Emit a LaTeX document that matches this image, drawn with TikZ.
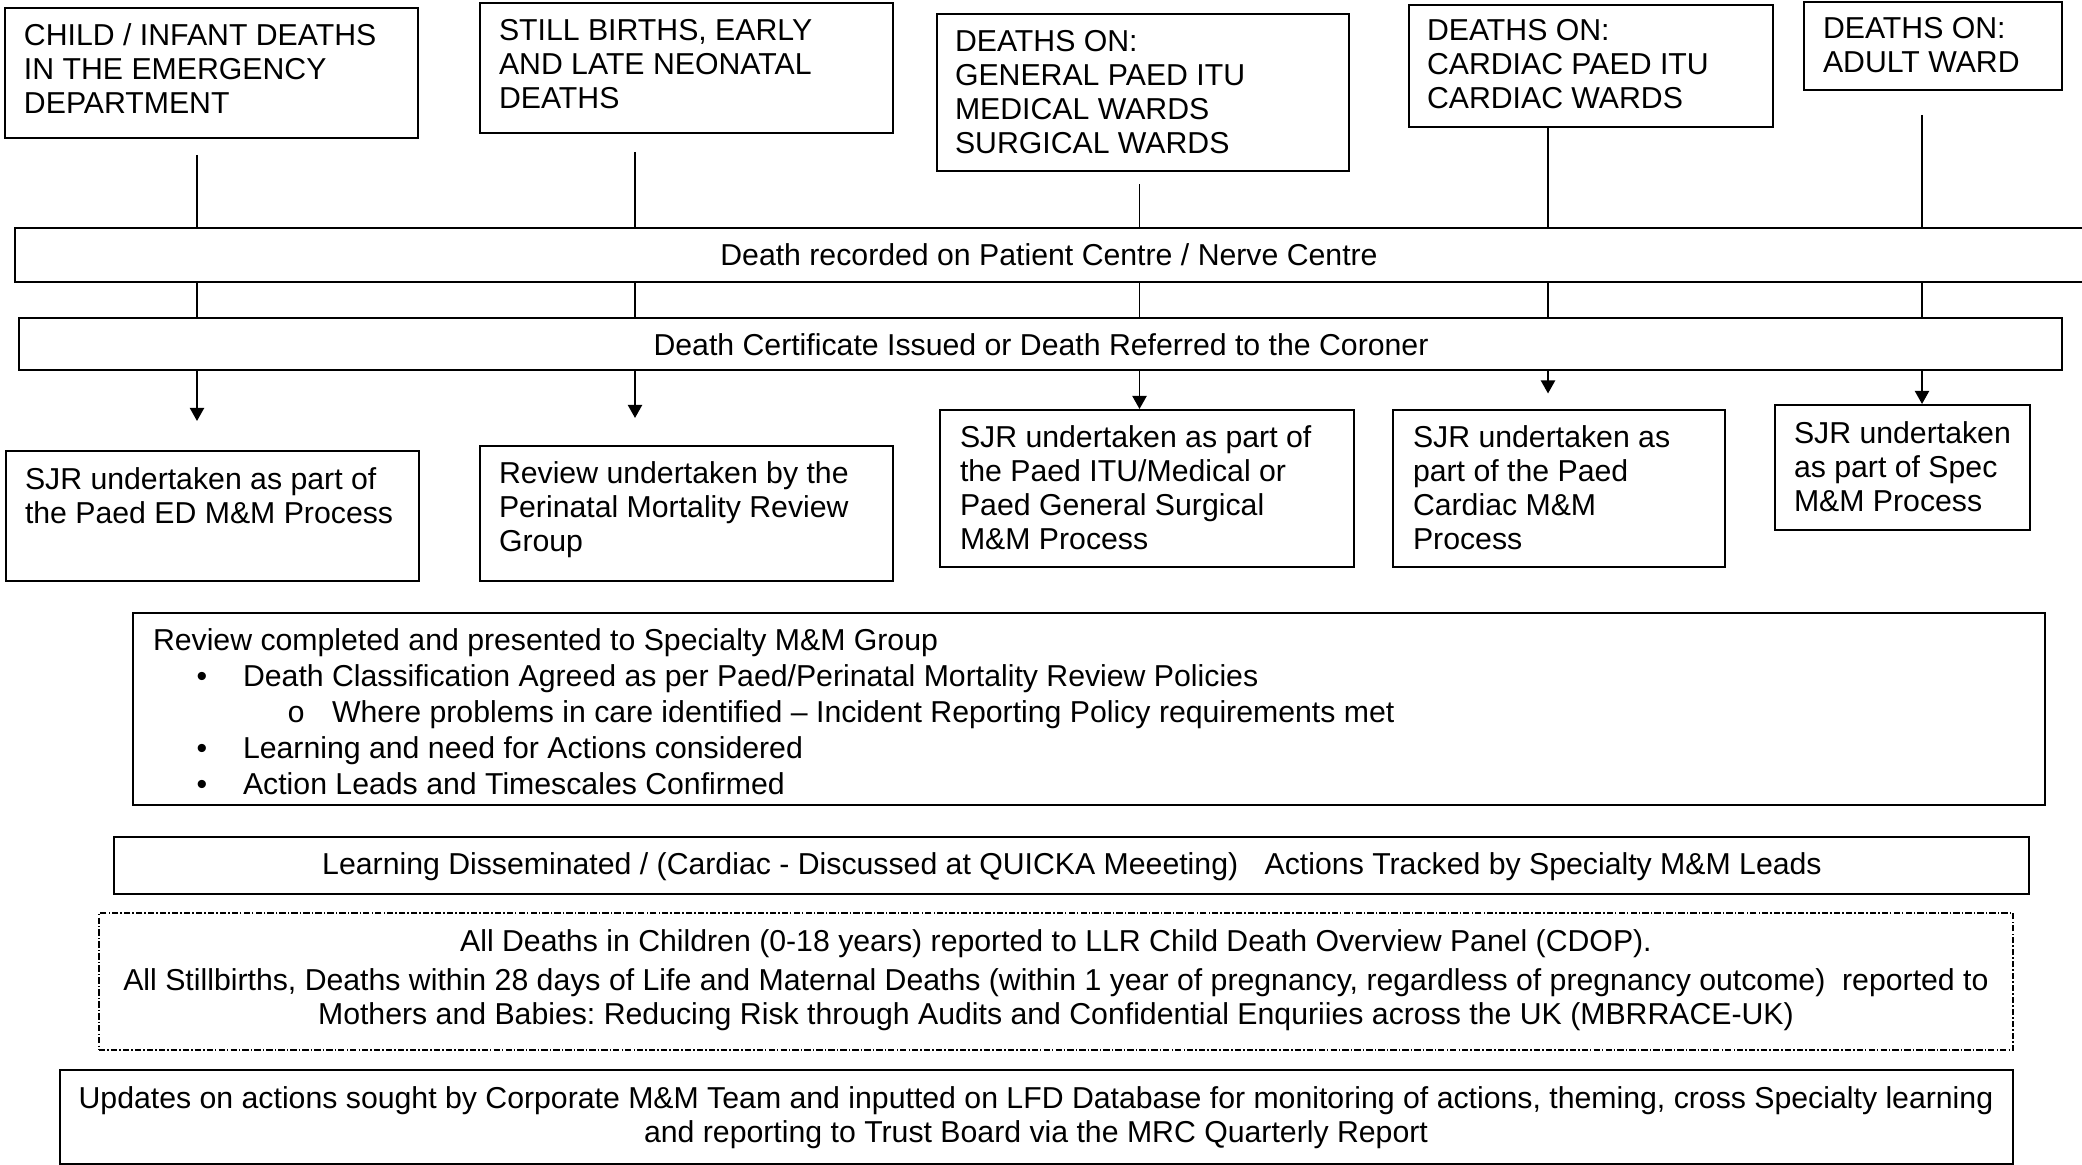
\documentclass[tikz,border=0pt]{standalone}
\usepackage{fontspec}
\setmainfont{Liberation Sans}
\newfontfamily\monofam{Liberation Mono}
\usetikzlibrary{arrows.meta,fit}
\newcommand\dfont{\fontsize{8.6pt}{9.67pt}\selectfont\frenchspacing}
\tikzset{
  bx/.style={draw, line width=0.55pt, inner sep=0pt, outer sep=0pt, rectangle},
  dbx/.style={draw, line width=0.5pt, inner sep=0pt, outer sep=0pt, rectangle,
    dash pattern=on 1.8pt off 0.6pt on 0.4pt off 0.6pt},
  lbl/.style={inner sep=0pt, outer sep=0pt, align=left, font=\dfont, anchor=base west},
  clbl/.style={inner sep=0pt, outer sep=0pt, align=center, font=\dfont, anchor=base},
  ln/.style={line width=0.55pt},
  arr/.style={ln, -{Triangle[length=3.7pt,width=4pt]}}
}
\begin{document}
% note: for multi-line nodes the base anchor is the baseline of the LAST line
\begin{tikzpicture}[x=0.01cm,y=-0.01cm]
\useasboundingbox (0,0) rectangle (2082,1165);
% top boxes
\node[bx, fit={(5,8) (418,138)}] (T1) {};
\node[lbl] (T1t) at (24,114) {CHILD / INFANT DEATHS\\IN THE EMERGENCY\\DEPARTMENT};
\node[bx, fit={(480,3) (893,133)}] (T2) {};
\node[lbl] (T2t) at (499,109) {STILL BIRTHS, EARLY\\AND LATE NEONATAL\\DEATHS};
\node[bx, fit={(937,14) (1349,171)}] (T3) {};
\node[lbl] (T3t) at (955,154) {DEATHS ON:\\GENERAL PAED ITU\\MEDICAL WARDS\\SURGICAL WARDS};
\node[bx, fit={(1409,5) (1773,127)}] (T4) {};
\node[lbl] (T4t) at (1427,109) {DEATHS ON:\\CARDIAC PAED ITU\\CARDIAC WARDS};
\node[bx, fit={(1804,2) (2062,90)}] (T5) {};
\node[lbl] (T5t) at (1823,73) {DEATHS ON:\\ADULT WARD};
% bars
\node[bx, fit={(15,228) (2100,282)}] (bar1) {};
\node[clbl] (bar1t) at (1049,266) {Death recorded on Patient Centre / Nerve Centre};
\node[bx, fit={(19,318) (2062,370)}] (bar2) {};
\node[clbl] (bar2t) at (1041,356) {Death Certificate Issued or Death Referred to the Coroner};
% bottom boxes
\node[bx, fit={(6,451) (419,581)}] (B1) {};
\node[lbl] (B1t) at (25,524) {SJR undertaken as part of\\the Paed ED M\&M Process};
\node[bx, fit={(480,446) (893,581)}] (B2) {};
\node[lbl] (B2t) at (499,552) {Review undertaken by the\\Perinatal Mortality Review\\Group};
\node[bx, fit={(940,410) (1354,567)}] (B3) {};
\node[lbl] (B3t) at (960,550) {SJR undertaken as part of\\the Paed ITU/Medical or\\Paed General Surgical\\M\&M Process};
\node[bx, fit={(1393,410) (1725,567)}] (B4) {};
\node[lbl] (B4t) at (1413,550) {SJR undertaken as\\part of the Paed\\Cardiac M\&M\\Process};
\node[bx, fit={(1775,405) (2030,530)}] (B5) {};
\node[lbl] (B5t) at (1794,512) {SJR undertaken\\as part of Spec\\M\&M Process};
% connector coordinates
\coordinate (s1) at (197,155);
\coordinate (s2) at (635,152);
\coordinate (s3) at (1139.5,184.5);
\coordinate (s4) at (T4.south -| 1548,0);
\coordinate (s5) at (1922,115);
\coordinate (e1) at (197,421);
\coordinate (e2) at (635,418);
\coordinate (e3) at (1139.5,409);
\coordinate (e4) at (1548,393.5);
\coordinate (e5) at (1922,404);
\foreach \i in {1,...,5}{
  \draw[ln] (s\i) -- (s\i |- bar1.north);
  \draw[ln] (s\i |- bar1.south) -- (s\i |- bar2.north);
  \draw[arr] (s\i |- bar2.south) -- (e\i);
}
% review box
\node[bx, fit={(133,613) (2045,805)}] (R) {};
\node[lbl, font=\fontsize{8.6pt}{10.2pt}\selectfont\frenchspacing] (Rt) at (153,794.4) {Review completed and presented to Specialty M\&M Group\\
\hspace*{13.94pt}\makebox[0pt]{•}\hspace*{11.67pt}Death Classification Agreed as per Paed/Perinatal Mortality Review Policies\\
\hspace*{40.69pt}\makebox[0pt]{\monofam o}\hspace*{10.24pt}Where problems in care identified – Incident Reporting Policy requirements met\\
\hspace*{13.94pt}\makebox[0pt]{•}\hspace*{11.67pt}Learning and need for Actions considered\\
\hspace*{13.94pt}\makebox[0pt]{•}\hspace*{11.67pt}Action Leads and Timescales Confirmed};
% learning box
\node[bx, fit={(114,837) (2029,894)}] (L) {};
\node[clbl] (Lt) at (1072,875) {Learning Disseminated / (Cardiac - Discussed at QUICKA Meeeting)\hspace{0.6em} Actions Tracked by Specialty M\&M Leads};
% dashed box
\node[dbx, fit={(99,913) (2013,1050)}] (D) {};
\node[clbl] (Dt) at (1056,1025) {All Deaths in Children (0-18 years) reported to LLR Child Death Overview Panel (CDOP).\\[1.7pt]
All Stillbirths, Deaths within 28 days of Life and Maternal Deaths (within 1 year of pregnancy, regardless of pregnancy outcome)\ \ reported to\\
Mothers and Babies: Reducing Risk through Audits and Confidential Enquriies across the UK (MBRRACE-UK)};
% updates box
\node[bx, fit={(60,1070) (2013,1164)}] (U) {};
\node[clbl] (Ut) at (1036,1142.5) {Updates on actions sought by Corporate M\&M Team and inputted on LFD Database for monitoring of actions, theming, cross Specialty learning\\
and reporting to Trust Board via the MRC Quarterly Report};
\end{tikzpicture}
\end{document}
